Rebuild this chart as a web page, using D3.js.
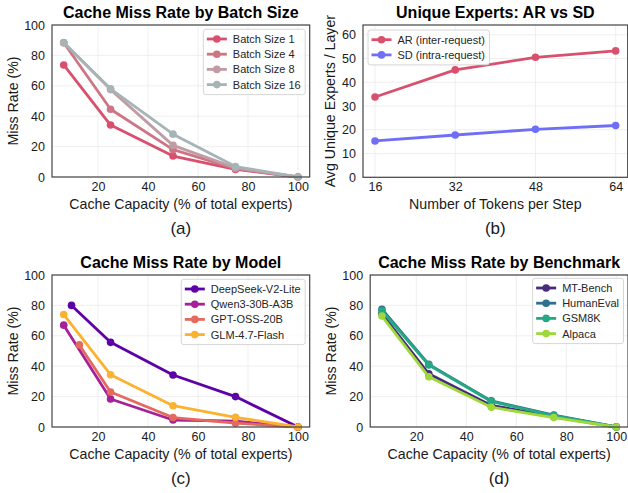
<!DOCTYPE html>
<html>
<head>
<meta charset="utf-8">
<script src="https://cdn.jsdelivr.net/npm/d3@7"></script>
<style>
  body { margin: 0; background: #fff; }
  svg { display: block; font-family: "Liberation Sans", Arial, sans-serif; }
  .grid line { stroke: #ebebeb; stroke-width: 0.8; }
  .tick text { font-size: 12.5px; fill: #1a1a1a; }
  .axis-label { font-size: 14.2px; fill: #1a1a1a; }
  .title { font-size: 16px; font-weight: bold; fill: #000; }
  .caption { font-size: 17px; fill: #1a1a1a; }
  .legend text { font-size: 11px; fill: #262626; }
</style>
</head>
<body>
<svg id="chart" width="628" height="493"></svg>
<script>
// ---- DATA ----
// (a) cache capacity (% of total experts) vs miss rate (%)
const capacity = [6.25, 25, 50, 75, 100];
const batchLabels = ["Batch Size 1", "Batch Size 4", "Batch Size 8", "Batch Size 16"];
const missBatch1 = [73.7, 34.2, 13.8, 5.0, 0];
const missBatch4 = [88.3, 44.6, 18.0, 5.5, 0];
const missBatch8 = [88.3, 57.5, 20.8, 6.0, 0];
const missBatch16 = [88.5, 58.0, 28.2, 6.9, 0];

// (b) unique experts per layer
const tokensPerStep = [16, 32, 48, 64];
const arLabel = "AR (inter-request)", sdLabel = "SD (intra-request)";
const arUnique = [33.8, 45.2, 50.5, 53.2];
const sdUnique = [15.3, 17.8, 20.2, 21.8];

// (c) by model
const modelLabels = ["DeepSeek-V2-Lite", "Qwen3-30B-A3B", "GPT-OSS-20B", "GLM-4.7-Flash"];
const deepseekCap = [9.375, 25, 50, 75, 100];
const deepseekMiss = [80, 55.7, 34.2, 20, 0];
const qwenCap = [6.25, 25, 50, 75, 100];
const qwenMiss = [67, 18.4, 4.6, 3.8, 0];
const gptCap = [12.5, 25, 50, 75, 100];
const gptMiss = [54, 23, 6.2, 2.5, 0];
const glmCap = [6.25, 25, 50, 75, 100];
const glmMiss = [74, 34.4, 14, 6.4, 0];

// (d) by benchmark
const benchLabels = ["MT-Bench", "HumanEval", "GSM8K", "Alpaca"];
const missMtBench = [74.5, 35, 14.2, 6.8, 0];
const missHumanEval = [77.5, 41.2, 17.2, 7.8, 0];
const missGsm8k = [76.5, 40.8, 16.8, 7.5, 0];
const missAlpaca = [73, 33, 13, 6.2, 0];

// ticks
const capTicks = [20, 40, 60, 80, 100];
const missTicks = [0, 20, 40, 60, 80, 100];
const uniqueTicks = [0, 10, 20, 30, 40, 50, 60];

const svg = d3.select("#chart");

function drawPanel(p) {
  const g = svg.append("g");
  const x = d3.scaleLinear().domain(p.xDomain).range([p.left, p.right]);
  const y = d3.scaleLinear().domain(p.yDomain).range([p.bottom, p.top]);

  // grid
  const grid = g.append("g").attr("class", "grid");
  grid.selectAll(".gx").data(p.xTicks).enter().append("line")
    .attr("x1", d => x(d)).attr("x2", d => x(d))
    .attr("y1", p.top).attr("y2", p.bottom);
  grid.selectAll(".gy").data(p.yTicks).enter().append("line")
    .attr("x1", p.left).attr("x2", p.right)
    .attr("y1", d => y(d)).attr("y2", d => y(d));

  // series
  const line = d3.line().x(d => x(d[0])).y(d => y(d[1]));
  p.series.forEach(s => {
    const pts = s.x.map((v, i) => [v, s.y[i]]);
    g.append("path").datum(pts)
      .attr("d", line)
      .attr("fill", "none")
      .attr("stroke", s.color)
      .attr("stroke-width", 2.8)
      .attr("stroke-linejoin", "round");
    g.append("g").selectAll("circle").data(pts).enter().append("circle")
      .attr("cx", d => x(d[0])).attr("cy", d => y(d[1]))
      .attr("r", 3.8).attr("fill", s.color);
  });

  // frame
  g.append("rect")
    .attr("x", p.left).attr("y", p.top)
    .attr("width", p.right - p.left).attr("height", p.bottom - p.top)
    .attr("fill", "none").attr("stroke", "#444").attr("stroke-width", 1.2);

  // axes
  const xa = g.append("g").attr("transform", `translate(0,${p.bottom})`)
    .call(d3.axisBottom(x).tickValues(p.xTicks).tickSize(0).tickPadding(5));
  xa.select(".domain").remove();
  xa.selectAll("text").attr("font-family", null).attr("font-size", null);
  const ya = g.append("g").attr("transform", `translate(${p.left},0)`)
    .call(d3.axisLeft(y).tickValues(p.yTicks).tickSize(0).tickPadding(7));
  ya.select(".domain").remove();
  ya.selectAll("text").attr("font-family", null).attr("font-size", null);

  const cxAxes = (p.left + p.right) / 2;
  // titles and labels
  g.append("text").attr("class", "title")
    .attr("x", cxAxes).attr("y", p.top - 7)
    .attr("text-anchor", "middle").text(p.title);
  g.append("text").attr("class", "axis-label")
    .attr("x", cxAxes).attr("y", p.bottom + 32)
    .attr("text-anchor", "middle").text(p.xLabel);
  g.append("text").attr("class", "axis-label")
    .attr("transform", `translate(${p.left - p.yLabelOffset},${(p.top + p.bottom) / 2}) rotate(-90)`)
    .attr("text-anchor", "middle").text(p.yLabel);
  g.append("text").attr("class", "caption")
    .attr("x", cxAxes).attr("y", p.bottom + 57)
    .attr("text-anchor", "middle").text(p.caption);

  // legend
  const lg = g.append("g").attr("class", "legend");
  const box = lg.append("rect")
    .attr("fill", "white").attr("fill-opacity", 0.8)
    .attr("stroke", "#cccccc").attr("stroke-width", 0.8)
    .attr("rx", 2.5);
  let maxW = 0;
  p.series.forEach((s, i) => {
    const ey = 9.7 + i * 15.2;
    lg.append("line")
      .attr("x1", 3.5).attr("x2", 23.5).attr("y1", ey).attr("y2", ey)
      .attr("stroke", s.color).attr("stroke-width", 2.8);
    lg.append("circle").attr("cx", 13.5).attr("cy", ey).attr("r", 3.8).attr("fill", s.color);
    const t = lg.append("text").attr("x", 29.5).attr("y", ey).attr("dy", "0.36em").text(s.label);
    maxW = Math.max(maxW, t.node().getComputedTextLength());
  });
  const bw = 29.5 + maxW + 4.5;
  const bh = 9.7 + (p.series.length - 1) * 15.2 + 10;
  box.attr("width", bw).attr("height", bh);
  const lx = p.legend === "left" ? p.left + 5 : p.right - 4.5 - bw;
  const ly = p.top + p.legendTop;
  lg.attr("transform", `translate(${lx},${ly})`);
}

drawPanel({
  left: 52, right: 309.7, top: 25, bottom: 177,
  xDomain: [1.56, 104.69], yDomain: [0, 100],
  xTicks: capTicks, yTicks: missTicks,
  title: "Cache Miss Rate by Batch Size",
  xLabel: "Cache Capacity (% of total experts)", yLabel: "Miss Rate (%)", yLabelOffset: 34,
  caption: "(a)", legend: "right", legendTop: 4.3,
  series: [
    { label: batchLabels[0], x: capacity, y: missBatch1, color: "#d8506e" },
    { label: batchLabels[1], x: capacity, y: missBatch4, color: "#cd7584" },
    { label: batchLabels[2], x: capacity, y: missBatch8, color: "#c19ca4" },
    { label: batchLabels[3], x: capacity, y: missBatch16, color: "#a7b4b6" }
  ]
});

drawPanel({
  left: 363, right: 627.7, top: 25, bottom: 177.3,
  xDomain: [13.6, 66.4], yDomain: [0, 64.1],
  xTicks: tokensPerStep, yTicks: uniqueTicks,
  title: "Unique Experts: AR vs SD",
  xLabel: "Number of Tokens per Step", yLabel: "Avg Unique Experts / Layer", yLabelOffset: 28,
  caption: "(b)", legend: "left", legendTop: 5,
  series: [
    { label: arLabel, x: tokensPerStep, y: arUnique, color: "#d8506e" },
    { label: sdLabel, x: tokensPerStep, y: sdUnique, color: "#6e6ef7" }
  ]
});

drawPanel({
  left: 52, right: 309.7, top: 275, bottom: 427,
  xDomain: [1.56, 104.69], yDomain: [0, 100],
  xTicks: capTicks, yTicks: missTicks,
  title: "Cache Miss Rate by Model",
  xLabel: "Cache Capacity (% of total experts)", yLabel: "Miss Rate (%)", yLabelOffset: 34,
  caption: "(c)", legend: "right", legendTop: 4.3,
  series: [
    { label: modelLabels[0], x: deepseekCap, y: deepseekMiss, color: "#5c02a6" },
    { label: modelLabels[1], x: qwenCap, y: qwenMiss, color: "#a52198" },
    { label: modelLabels[2], x: gptCap, y: gptMiss, color: "#e4695e" },
    { label: modelLabels[3], x: glmCap, y: glmMiss, color: "#fcb12f" }
  ]
});

drawPanel({
  left: 370.2, right: 628, top: 275, bottom: 427,
  xDomain: [1.56, 104.69], yDomain: [0, 100],
  xTicks: capTicks, yTicks: missTicks,
  title: "Cache Miss Rate by Benchmark",
  xLabel: "Cache Capacity (% of total experts)", yLabel: "Miss Rate (%)", yLabelOffset: 34,
  caption: "(d)", legend: "right", legendTop: 3.3,
  series: [
    { label: benchLabels[0], x: capacity, y: missMtBench, color: "#472c7a" },
    { label: benchLabels[1], x: capacity, y: missHumanEval, color: "#2c718e" },
    { label: benchLabels[2], x: capacity, y: missGsm8k, color: "#25a984" },
    { label: benchLabels[3], x: capacity, y: missAlpaca, color: "#9fd83a" }
  ]
});
</script>
</body>
</html>
